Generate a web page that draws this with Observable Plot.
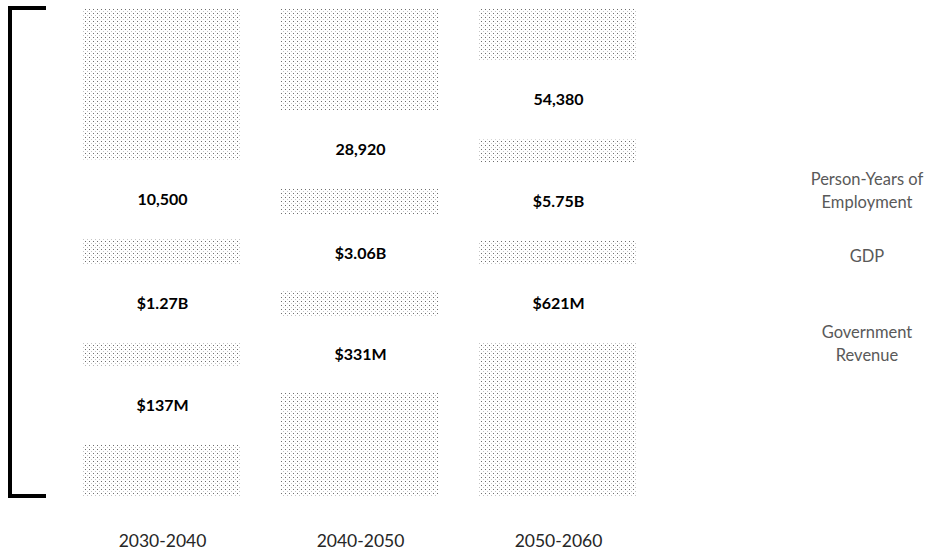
<!DOCTYPE html>
<html><head><meta charset="utf-8">
<script src="https://cdn.jsdelivr.net/npm/d3@7"></script>
<script src="https://cdn.jsdelivr.net/npm/@observablehq/plot@0.6"></script>
<style>
body{margin:0;background:#fff;font-family:Lato,"Open Sans",sans-serif;}
#wrap{position:relative;width:934px;height:553px;overflow:hidden;}
#legend{position:absolute;left:792px;width:150px;top:168px;text-align:center;color:#595959;font-size:16.5px;line-height:23px;}
#legend .item{display:block;}
</style></head><body>
<svg width="0" height="0" style="position:absolute">
  <defs>
    <pattern id="dots" width="4" height="4" patternUnits="userSpaceOnUse">
      <rect width="4" height="4" fill="#fff"/>
      <rect x="1" y="1" width="1" height="1" fill="#6e6e6e"/>
      <rect x="3" y="3" width="1" height="1" fill="#c4c4c4"/>
    </pattern>
  </defs>
</svg>
<div id="wrap"><div id="chart"></div><div id="legend"></div></div>
<script>
const periods = ["2030-2040", "2040-2050", "2050-2060"];
const seriesNames = ["Person-Years of Employment", "GDP", "Government Revenue"];
const employmentLabels = ["10,500", "28,920", "54,380"];
const gdpLabels = ["$1.27B", "$3.06B", "$5.75B"];
const revenueLabels = ["$137M", "$331M", "$621M"];
// segment sizes, % of each column (patterned spacers and white labelled series)
const spacerTop = [31.1, 21.1, 10.7];
const employmentGap = [16.2, 15.8, 16.2];
const spacerMid1 = [5.3, 5.5, 4.7];
const gdpGap = [16.0, 15.6, 16.0];
const spacerMid2 = [4.7, 5.3, 4.9];
const revenueGap = [16.2, 15.4, 16.0];
const spacerBottom = [10.5, 21.3, 31.5];

const rows = [];
periods.forEach((p, i) => {
  const segs = [
    {value: spacerTop[i], paint: "url(#dots)", label: null},
    {value: employmentGap[i], paint: "white", label: employmentLabels[i]},
    {value: spacerMid1[i], paint: "url(#dots)", label: null},
    {value: gdpGap[i], paint: "white", label: gdpLabels[i]},
    {value: spacerMid2[i], paint: "url(#dots)", label: null},
    {value: revenueGap[i], paint: "white", label: revenueLabels[i]},
    {value: spacerBottom[i], paint: "url(#dots)", label: null}
  ];
  segs.forEach((s, k) => rows.push({period: p, seg: k, ...s}));
});

function bracket(index, scales, values, dims) {
  const g = d3.create("svg:g");
  const yTop = scales.y(0), yBot = scales.y(100);
  const xL = dims.marginLeft - 33, xR = dims.marginLeft + 3;
  g.append("path")
    .attr("d", `M${xR},${yTop}H${xL}V${yBot}H${xR}`)
    .attr("fill", "none").attr("stroke", "#000").attr("stroke-width", 4);
  return g.node();
}

const chart = Plot.plot({
  width: 934, height: 553,
  marginLeft: 43, marginRight: 257, marginTop: 8, marginBottom: 57,
  style: {fontFamily: "Lato, 'Open Sans', sans-serif", background: "transparent"},
  x: {domain: periods, padding: 0.2, label: null},
  y: {domain: [0, 100], reverse: true, axis: null},
  color: {type: "identity"},
  marks: [
    Plot.barY(rows, Plot.stackY({x: "period", y: "value", z: "seg", fill: "paint"})),
    Plot.text(rows, Plot.stackY({x: "period", y: "value", z: "seg", text: "label",
      fontWeight: "bold", fontSize: 16, fill: "#000"})),
    Plot.axisX({tickSize: 0, tickPadding: 38, fontSize: 17.5, color: "#262626", label: null}),
    bracket
  ]
});
document.getElementById("chart").appendChild(chart);

const legend = document.getElementById("legend");
const legendLines = [["Person-Years of", "Employment"], ["GDP"], ["Government", "Revenue"]];
const gaps = [31, 53, 0];
seriesNames.forEach((name, i) => {
  const d = document.createElement("div");
  d.className = "item";
  d.title = name;
  d.innerHTML = legendLines[i].join("<br>");
  d.style.marginBottom = gaps[i] + "px";
  legend.appendChild(d);
});
</script>
</body></html>
